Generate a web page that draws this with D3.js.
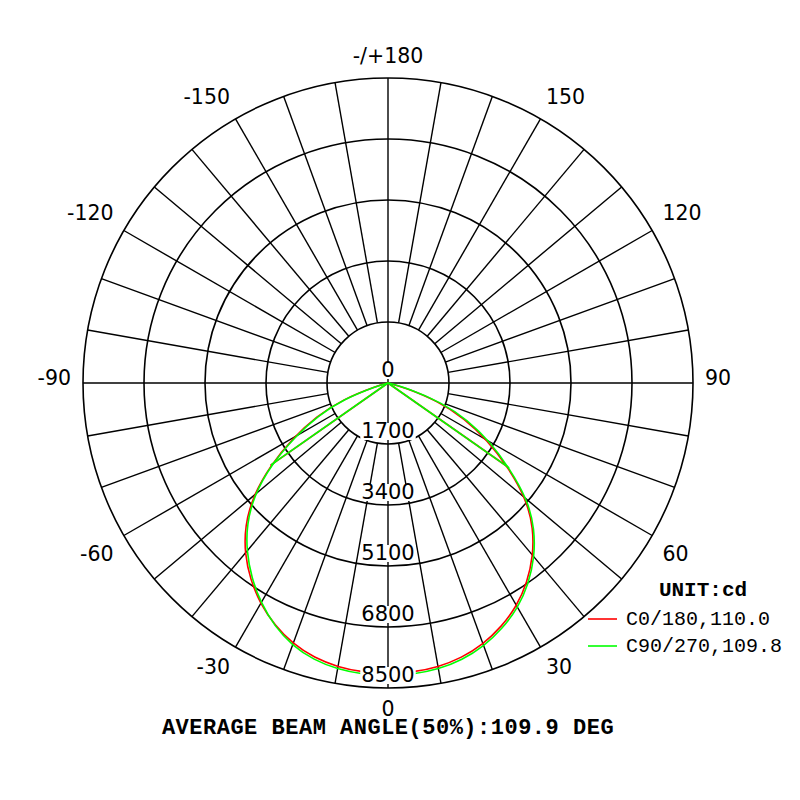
<!DOCTYPE html>
<html><head><meta charset="utf-8">
<script src="https://cdn.jsdelivr.net/npm/d3@7"></script>
<style>body{margin:0;background:#fff}</style>
</head><body>
<svg id="chart" width="800" height="800"></svg>
<script>
// ---------- data ----------
const gammaAngles = [0,5,10,15,20,25,30,35,40,45,50,55,60,65,70,75,80,85,90];
const c0Values   = [8110,8090,8040,7930,7750,7490,7180,6770,6290,5730,5030,4080,3200,2350,1500,450,0,0,0];
const c180Values = [8110,8090,8040,7930,7740,7460,7110,6690,6210,5640,4920,4000,3050,2200,1350,330,0,0,0];
const c90Values  = [8170,8150,8100,7990,7810,7550,7240,6830,6350,5780,5090,4120,3280,2450,1600,560,40,0,0];
const c270Values = [8170,8150,8100,7990,7790,7480,7080,6630,6130,5570,4870,3980,2980,2150,1300,300,0,0,0];
const chordGamma = 55;
const ringValues = [1700,3400,5100,6800,8500];
const valueLabels = [0,1700,3400,5100,6800,8500];
const maxValue = 8500;
const angleTicks = [0,30,60,90,120,150,180,-150,-120,-90,-60,-30];
const angleTickLabels = ["0","30","60","90","120","150","-/+180","-150","-120","-90","-60","-30"];
const spokeAngles = d3.range(0,360,10);
const seriesNames = ["C0/180,110.0","C90/270,109.8"];
const seriesColors = ["#ff0000","#00ff00"];
const unitLabel = "UNIT:cd";
const titleText = "AVERAGE BEAM ANGLE(50%):109.9 DEG";

// ---------- layout ----------
const cx = 388, cy = 383, R = 305;
const svg = d3.select("#chart");
const r = d3.scaleLinear().domain([0, maxValue]).range([0, R]);
const rad = g => g * Math.PI / 180;
const px = (g, v) => cx + r(v) * Math.sin(rad(g));
const py = (g, v) => cy + r(v) * Math.cos(rad(g));

const grid = svg.append("g").attr("stroke", "#000").attr("fill", "none");
grid.selectAll("line.spoke").data(spokeAngles.filter(a => a % 90 !== 0)).join("line")
  .attr("class","spoke")
  .attr("x1", a => px(a, ringValues[0])).attr("y1", a => py(a, ringValues[0]))
  .attr("x2", a => px(a, maxValue)).attr("y2", a => py(a, maxValue))
  .attr("stroke-width", 1.4);
grid.selectAll("line.axis").data([0, 90]).join("line")
  .attr("class","axis")
  .attr("x1", a => px(a, maxValue)).attr("y1", a => py(a, maxValue))
  .attr("x2", a => px(a + 180, maxValue)).attr("y2", a => py(a + 180, maxValue))
  .attr("stroke-width", 1.4);
grid.selectAll("circle").data(ringValues).join("circle")
  .attr("cx", cx).attr("cy", cy).attr("r", d => r(d))
  .attr("stroke-width", 1.6);

// ---------- curves ----------
const series = [[c0Values, c180Values], [c90Values, c270Values]];
const outerLine = d3.lineRadial()
  .angle(d => Math.PI - rad(d.g))
  .radius(d => r(d.v))
  .curve(d3.curveBasis);
const chordLine = d3.lineRadial()
  .angle(d => Math.PI - rad(d.g))
  .radius(d => r(d.v));
const ci = gammaAngles.indexOf(chordGamma);
const curves = svg.append("g").attr("transform", `translate(${cx},${cy})`).attr("fill","none");
series.forEach(([right, left], k) => {
  const pts = [];
  for (let i = gammaAngles.length - 1; i >= 0; i--) pts.push({g: -gammaAngles[i], v: left[i]});
  for (let i = 1; i < gammaAngles.length; i++) pts.push({g: gammaAngles[i], v: right[i]});
  curves.append("path").attr("d", outerLine(pts))
    .attr("stroke", seriesColors[k]).attr("stroke-width", 1.6);
  [[{g:-chordGamma, v:left[ci]}, {g:-90, v:0}], [{g:90, v:0}, {g:chordGamma, v:right[ci]}]].forEach(seg => {
    curves.append("path").attr("d", chordLine(seg))
      .attr("stroke", seriesColors[k]).attr("stroke-width", 1.6);
  });
});

// ---------- value labels ----------
const vl = svg.append("g").attr("font-family", "DejaVu Sans").attr("font-size", 21).attr("text-anchor","middle");
valueLabels.forEach(v => {
  const t = vl.append("text").attr("x", cx).attr("y", cy + r(v) - 6).text(v);
  const b = t.node().getBBox();
  vl.insert("rect", "text:last-child")
    .attr("x", b.x - 1).attr("y", b.y + 4).attr("width", b.width + 2).attr("height", b.height - 7)
    .attr("fill", "#fff");
});

// ---------- angle labels ----------
const al = svg.append("g").attr("font-family", "DejaVu Sans").attr("font-size", 20.5).attr("fill","#000");
const LR = 318;
angleTicks.forEach((a, i) => {
  const s = Math.sin(rad(a)), c = Math.cos(rad(a));
  let x, y, anchor;
  if (Math.abs(s) < 1e-6) { x = cx; anchor = "middle"; }
  else if (s > 0) { x = cx + LR * s - 1; anchor = "start"; }
  else { x = cx + LR * s + 1; anchor = "end"; }
  if (c > 0.01) y = cy + LR * c + 16 + (Math.abs(s) < 1e-6 ? -1 : 0);
  else if (c < -0.01) y = cy + LR * c - (Math.abs(s) < 1e-6 ? 2 : 4);
  else y = cy + 1.5;
  if (Math.abs(c - 0.5) < 0.01) y += 3;
  al.append("text").attr("x", x).attr("y", y).attr("text-anchor", anchor).text(angleTickLabels[i]);
});

// ---------- legend ----------
const lg = svg.append("g").attr("font-family", "Liberation Mono");
lg.append("text").attr("x", 703).attr("y", 596).attr("text-anchor","middle")
  .attr("font-size", 21).attr("font-weight","bold").text(unitLabel);
seriesNames.forEach((n, i) => {
  const y = 619 + i * 27;
  lg.append("line").attr("x1", 588).attr("x2", 617).attr("y1", y).attr("y2", y)
    .attr("stroke", seriesColors[i]).attr("stroke-width", 1.6);
  lg.append("text").attr("x", 626).attr("y", y + 5.5).attr("font-size", 20).text(n);
});

// ---------- title ----------
svg.append("text").attr("x", 388).attr("y", 734).attr("text-anchor","middle")
  .attr("font-family","Liberation Mono").attr("font-weight","bold").attr("font-size", 22)
  .attr("letter-spacing", 0.5)
  .text(titleText);
</script>
</body></html>
